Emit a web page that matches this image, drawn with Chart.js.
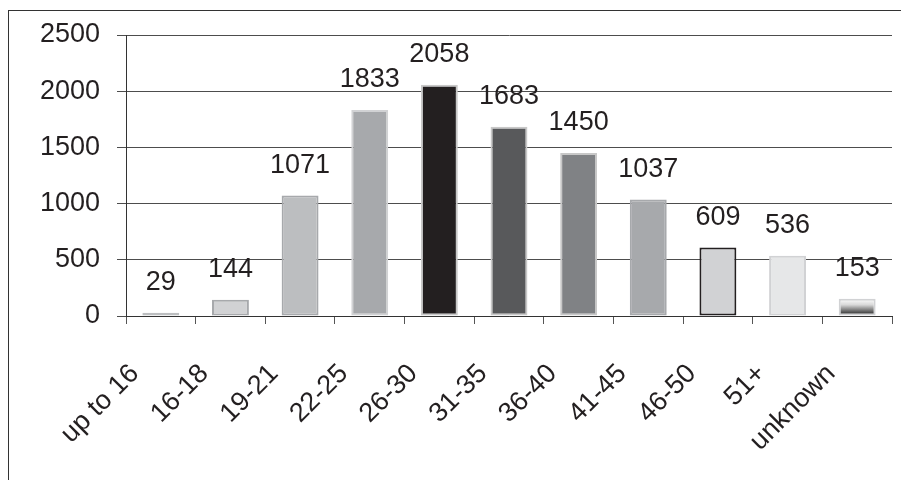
<!DOCTYPE html>
<html>
<head>
<meta charset="utf-8">
<script src="https://cdn.jsdelivr.net/npm/chart.js@4"></script>
<style>
  body { margin: 0; background: #fff; overflow: hidden; }
  #frame { position: absolute; left: 8px; top: 10px; width: 1000px; height: 1000px;
           border: 1.5px solid #333; }
  #myChart { position: absolute; left: 0; top: 0; }
</style>
</head>
<body>
<div id="frame"></div>
<canvas id="myChart" width="901" height="480"></canvas>
<script>
const ageGroups = ["up to 16", "16-18", "19-21", "22-25", "26-30", "31-35", "36-40", "41-45", "46-50", "51+", "unknown"];
const members = [29, 144, 1071, 1833, 2058, 1683, 1450, 1037, 609, 536, 153];
const yTicks = [0, 500, 1000, 1500, 2000, 2500];

const fills = ["#f2f2f2", "#d1d2d4", "#bcbec0", "#a7a9ac", "#231f20", "#58595b", "#808285", "#a7a9ac", "#d1d2d4", "#e6e7e8", null];
const edges = ["#bcbec0", "#a7a9ac", "#a7a9ac", "#d1d2d4", "#c8c8c8", "#c8c8c8", "#c8c8c8", "#a7a9ac", "#231f20", "#d1d2d4", "#d1d2d4"];

const FONT = "'Liberation Sans', Arial, sans-serif";
const INK = "#231f20";

function fillFor(context) {
  const i = context.dataIndex;
  if (fills[i]) return fills[i];
  // last bar: white-to-black vertical gradient
  const chart = context.chart;
  const y = chart.scales.y;
  if (!chart.chartArea || !y) return "#888";
  const top = y.getPixelForValue(members[i]);
  const base = y.getPixelForValue(0);
  const g = chart.ctx.createLinearGradient(0, top, 0, base);
  g.addColorStop(0, "#ffffff");
  g.addColorStop(0.35, "#d8d8d8");
  g.addColorStop(1, "#111111");
  return g;
}

const valueLabels = {
  id: "valueLabels",
  afterDatasetsDraw(chart) {
    const ctx = chart.ctx;
    const meta = chart.getDatasetMeta(0);
    ctx.save();
    ctx.font = "27px " + FONT;
    ctx.fillStyle = INK;
    ctx.textAlign = "center";
    ctx.textBaseline = "middle";
    meta.data.forEach((bar, i) => {
      ctx.fillText(String(members[i]), bar.x, bar.y - 30);
    });
    ctx.restore();
  }
};

function renderChart() {
  const ctx = document.getElementById("myChart");

  new Chart(ctx, {
    type: "bar",
    data: {
      labels: ageGroups,
      datasets: [
        {
          data: members,
          backgroundColor: fillFor,
          borderColor: edges,
          borderWidth: 2,
          borderSkipped: false,
          barPercentage: 0.53,
          categoryPercentage: 1,
        },
      ],
    },
    options: {
      responsive: false,
      animation: false,
      layout: { padding: { top: 35, right: 9, left: 0, bottom: 0 } },
      plugins: {
        legend: { display: false },
        tooltip: { enabled: false },
      },
      scales: {
        x: {
          afterFit: (s) => { s.height = 164; s.paddingLeft = 0; s.paddingRight = 0; },
          grid: { drawOnChartArea: false, drawTicks: true, tickLength: 8, color: "#555", offset: true },
          border: { display: true, color: "#333", width: 1 },
          ticks: {
            autoSkip: false,
            minRotation: 45,
            maxRotation: 45,
            labelOffset: -26,
            padding: 34,
            color: INK,
            font: { family: FONT, size: 27 },
          },
        },
        y: {
          min: 0,
          max: 2500,
          afterFit: (s) => { s.width = 126; s.paddingTop = 0; s.paddingBottom = 0; },
          afterBuildTicks: (s) => { s.ticks = yTicks.map((v) => ({ value: v })); },
          grid: { color: "#4d4d4d", tickLength: 9, lineWidth: 1 },
          border: { display: true, color: "#333", width: 1 },
          ticks: {
            padding: 17,
            color: INK,
            font: { family: FONT, size: 27 },
            callback: (v) => String(v),
          },
        },
      },
    },
    plugins: [valueLabels],
  });
}
renderChart();
</script>
</body>
</html>
